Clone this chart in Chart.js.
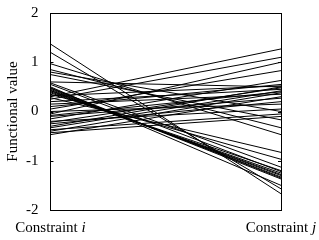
<!DOCTYPE html>
<html>
<head>
<meta charset="utf-8">
<script src="https://cdn.jsdelivr.net/npm/chart.js@4/dist/chart.umd.min.js"></script>
<style>
  html, body { margin: 0; padding: 0; background: #fff; }
  #wrap { width: 319px; height: 240px; }
</style>
</head>
<body>
<div id="wrap"><canvas id="c"></canvas></div>
<script>
const categories = ['Constraint i', 'Constraint j'];
const yTicks = [-2, -1, 0, 1, 2];

// value at constraint i, value at constraint j (one line per pair)
const valuesI = [
    1.37, 1.2, 0.97, 0.85, 0.8, 0.75, 0.6, 0.58, 0.5, 0.47,
    0.45, 0.43, 0.42, 0.4, 0.38, 0.35, 0.3, 0.28, 0.25, 0.2,
    0.15, 0.1, 0.05, 0.0, -0.05, -0.08, -0.1, -0.15, -0.2, -0.22,
    -0.25, -0.3, -0.33, -0.37, -0.4, -0.43, -0.47, 0.55, 0.48, 0.32,
];
const valuesJ = [
    -1.67, -1.57, -0.47, -0.33, 0.0, -0.17, 0.5, -1.13, -1.5, -1.37,
    -1.33, -1.3, -1.28, -1.25, -1.2, -0.97, 1.27, -0.83, 1.1, 0.45,
    0.35, 0.55, 0.83, 0.15, 1.0, 0.4, 0.27, 0.63, 0.05, 0.48,
    0.2, 0.5, 0.42, -0.05, 0.38, -0.1, 0.3, -1.22, -1.35, 0.52,
];

const serif = '"Liberation Serif", "Times New Roman", serif';
const fontSize = 15;

// frame round the plot with small inward ticks on left and right,
// and the category labels with the index letter in italics
const framePlugin = {
    id: 'frame',
    afterDraw(chart) {
        const { ctx, chartArea: a, scales } = chart;
        ctx.save();
        ctx.strokeStyle = '#000';
        ctx.lineWidth = 1;
        ctx.strokeRect(Math.round(a.left) + 0.5, Math.round(a.top) + 0.5,
            Math.round(a.right - a.left), Math.round(a.bottom - a.top));
        ctx.beginPath();
        yTicks.forEach((v) => {
            const y = Math.round(scales.y.getPixelForValue(v)) + 0.5;
            ctx.moveTo(a.left, y);
            ctx.lineTo(a.left + 3, y);
            ctx.moveTo(a.right, y);
            ctx.lineTo(a.right - 3, y);
        });
        ctx.stroke();

        ctx.fillStyle = '#000';
        ctx.textBaseline = 'top';
        ctx.textAlign = 'left';
        const y = a.bottom + 11;
        categories.forEach((label, k) => {
            const head = label.slice(0, -1);
            const tail = label.slice(-1);
            ctx.font = `${fontSize}px ${serif}`;
            const w1 = ctx.measureText(head).width;
            ctx.font = `italic ${fontSize}px ${serif}`;
            const w2 = ctx.measureText(tail).width;
            const x = scales.x.getPixelForTick(k) - (w1 + w2) / 2;
            ctx.font = `${fontSize}px ${serif}`;
            ctx.fillText(head, x, y);
            ctx.font = `italic ${fontSize}px ${serif}`;
            ctx.fillText(tail, x + w1, y);
        });
        ctx.restore();
    },
};

const datasets = valuesI.map((v, k) => ({
    data: [v, valuesJ[k]],
    borderColor: '#000',
    borderWidth: 1,
    pointRadius: 0,
    fill: false,
    tension: 0,
}));

new Chart(document.getElementById('c'), {
    type: 'line',
    data: { labels: categories, datasets },
    options: {
        responsive: true,
        maintainAspectRatio: false,
        animation: false,
        layout: { padding: { top: 5, right: 38, left: 4, bottom: 2 } },
        plugins: { legend: { display: false }, tooltip: { enabled: false } },
        scales: {
            x: {
                offset: false,
                grid: { display: false },
                border: { display: false },
                ticks: { color: 'rgba(0,0,0,0)', font: { family: serif, size: fontSize }, maxRotation: 0, padding: 0 },
                afterFit: (s) => { s.height = 28; },
            },
            y: {
                min: -2,
                max: 2,
                afterBuildTicks: (s) => { s.ticks = yTicks.map((v) => ({ value: v })); },
                grid: { display: false },
                border: { display: false },
                ticks: { color: '#000', font: { family: serif, size: fontSize }, padding: 4 },
                title: { display: true, text: 'Functional value', color: '#000', font: { family: serif, size: fontSize }, padding: 0 },
            },
        },
    },
    plugins: [framePlugin],
});
</script>
</body>
</html>
